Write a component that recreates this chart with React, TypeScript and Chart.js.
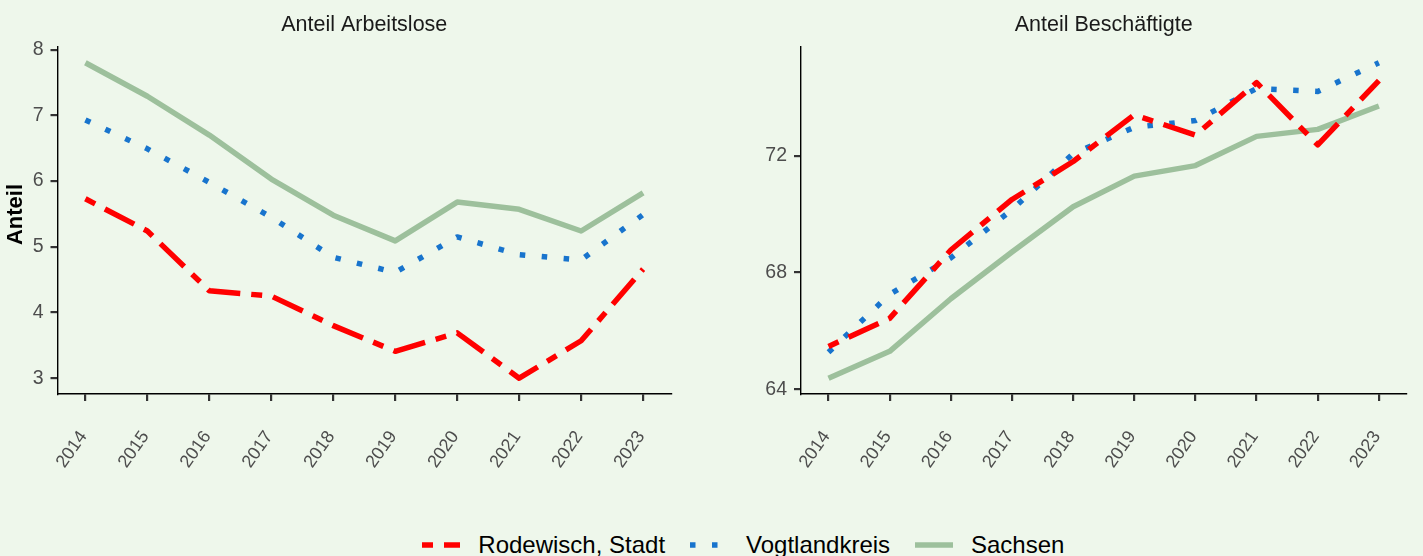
import { useEffect, useRef } from 'react';
import { Chart, registerables } from 'chart.js';

Chart.register(...registerables);

// ---------- data ----------
const years = [2014, 2015, 2016, 2017, 2018, 2019, 2020, 2021, 2022, 2023];
const seriesNames = ['Rodewisch, Stadt', 'Vogtlandkreis', 'Sachsen'];

const arbeitsloseRodewisch = [5.73, 5.24, 4.33, 4.25, 3.8, 3.41, 3.69, 3.0, 3.57, 4.66];
const arbeitsloseVogtland = [6.93, 6.49, 5.98, 5.45, 4.84, 4.61, 5.15, 4.88, 4.8, 5.49];
const arbeitsloseSachsen = [7.8, 7.29, 6.7, 6.03, 5.48, 5.09, 5.68, 5.57, 5.24, 5.82];

const beschaeftigteRodewisch = [65.47, 66.43, 68.77, 70.5, 71.8, 73.4, 72.7, 74.5, 72.37, 74.57];
const beschaeftigteVogtland = [65.27, 67.25, 68.5, 70.15, 72.07, 72.97, 73.2, 74.3, 74.2, 75.18];
const beschaeftigteSachsen = [64.38, 65.3, 67.1, 68.7, 70.25, 71.3, 71.66, 72.66, 72.9, 73.7];

const arbeitsloseTicks = [3, 4, 5, 6, 7, 8];
const beschaeftigteTicks = [64, 68, 72];

const titleLeft = 'Anteil Arbeitslose';
const titleRight = 'Anteil Beschäftigte';
const yTitle = 'Anteil';

// ---------- style ----------
const BG = '#EEF7EB';
const RED = '#FF0000';
const BLUE = '#1874CD';
const GREEN = '#9DC09C';
const FONT = '"Liberation Sans", Arial, sans-serif';
const LW = 5.5;
const DASH_RED = [11, 11, 33, 11];
const DASH_BLUE = [5.5, 16.5];

const colors = [RED, BLUE, GREEN];
const dashes = [DASH_RED, DASH_BLUE, []];

function expand(vals: number[][]) {
  const all = vals.flat();
  const mn = Math.min(...all);
  const mx = Math.max(...all);
  const r = mx - mn;
  return [mn - r * 0.05, mx + r * 0.05];
}

const panelPlugin = {
  id: 'panelDecor',
  afterDraw(chart: any, _args: any, opts: any) {
    const { ctx, chartArea } = chart;
    ctx.save();
    ctx.fillStyle = '#1A1A1A';
    ctx.font = `21.5px ${FONT}`;
    ctx.textAlign = 'center';
    ctx.textBaseline = 'alphabetic';
    ctx.fillText(opts.title, (chartArea.left + chartArea.right) / 2, 30.7);
    if (opts.yTitle) {
      ctx.translate(15.8, 214.5);
      ctx.rotate(-Math.PI / 2);
      ctx.font = `bold 22px ${FONT}`;
      ctx.fillStyle = '#000000';
      ctx.textBaseline = 'middle';
      ctx.fillText(opts.yTitle, 0, 0);
    }
    ctx.restore();
  },
};

function buildChart(
  canvas: HTMLCanvasElement,
  data: number[][],
  ticks: number[],
  title: string,
  yTitleText: string | null,
  yWidth: number,
  padRight: number,
) {
  const [yMin, yMax] = expand(data);
  return new Chart(canvas, {
    type: 'line',
    data: {
      datasets: data.map((vals, i) => ({
        label: seriesNames[i],
        data: vals.map((v, j) => ({ x: years[j], y: v })),
        borderColor: colors[i],
        borderWidth: LW,
        borderDash: dashes[i],
        borderCapStyle: 'butt',
        borderJoinStyle: 'round',
        pointRadius: 0,
        fill: false,
        tension: 0,
      })),
    },
    options: {
      responsive: false,
      animation: false,
      devicePixelRatio: 1,
      layout: { padding: { top: 47, left: 0, right: padRight, bottom: 0 } },
      plugins: {
        legend: { display: false },
        tooltip: { enabled: false },
        panelDecor: { title, yTitle: yTitleText },
      } as any,
      scales: {
        x: {
          type: 'linear',
          min: years[0] - 0.45,
          max: years[years.length - 1] + 0.45,
          afterBuildTicks: (s: any) => {
            s.ticks = years.map((v) => ({ value: v }));
          },
          afterFit: (s: any) => {
            s.height = 86;
          },
          ticks: {
            autoSkip: false,
            minRotation: 55,
            maxRotation: 55,
            padding: 26,
            labelOffset: -2,
            color: '#4D4D4D',
            font: { family: FONT, size: 18 },
            callback: (v: any) => String(v),
          },
          grid: {
            drawOnChartArea: false,
            drawTicks: true,
            tickLength: 7,
            color: '#333333',
            lineWidth: 2.2,
          },
          border: { display: true, color: '#000000', width: 1.4 },
        },
        y: {
          type: 'linear',
          min: yMin,
          max: yMax,
          afterBuildTicks: (s: any) => {
            s.ticks = ticks.map((v) => ({ value: v }));
          },
          afterFit: (s: any) => {
            s.width = yWidth;
          },
          ticks: {
            padding: 7,
            color: '#4D4D4D',
            font: { family: FONT, size: 19.5 },
            callback: (v: any) => String(v),
          },
          grid: {
            drawOnChartArea: false,
            drawTicks: true,
            tickLength: 7,
            color: '#333333',
            lineWidth: 2.2,
          },
          border: { display: true, color: '#000000', width: 1.4 },
        },
      },
    } as any,
    plugins: [panelPlugin],
  });
}

function LegendKey({ color, dash }: { color: string; dash: number[] }) {
  return (
    <svg width={38} height={12} style={{ display: 'block' }}>
      <line
        x1={0}
        y1={6}
        x2={38}
        y2={6}
        stroke={color}
        strokeWidth={LW}
        strokeDasharray={dash.length ? dash.join(' ') : undefined}
        strokeLinecap="butt"
      />
    </svg>
  );
}

export default function App() {
  const leftRef = useRef<HTMLCanvasElement>(null);
  const rightRef = useRef<HTMLCanvasElement>(null);

  useEffect(() => {
    document.body.style.margin = '0';
    document.body.style.background = BG;
    const c1 = buildChart(
      leftRef.current!,
      [arbeitsloseRodewisch, arbeitsloseVogtland, arbeitsloseSachsen],
      arbeitsloseTicks,
      titleLeft,
      yTitle,
      57.5,
      40,
    );
    const c2 = buildChart(
      rightRef.current!,
      [beschaeftigteRodewisch, beschaeftigteVogtland, beschaeftigteSachsen],
      beschaeftigteTicks,
      titleRight,
      null,
      90,
      9,
    );
    return () => {
      c1.destroy();
      c2.destroy();
    };
  }, []);

  const legendItems = [
    { key: 421.7, text: 478.3 },
    { key: 690, text: 746 },
    { key: 914.7, text: 971 },
  ];

  return (
    <div
      style={{
        position: 'relative',
        width: 1423,
        height: 556,
        background: BG,
        overflow: 'hidden',
        fontFamily: FONT,
      }}
    >
      <canvas
        ref={leftRef}
        width={711}
        height={480}
        style={{ position: 'absolute', left: 0, top: 0, width: 711, height: 480 }}
      />
      <canvas
        ref={rightRef}
        width={712}
        height={480}
        style={{ position: 'absolute', left: 711, top: 0, width: 712, height: 480 }}
      />
      {legendItems.map((it, i) => (
        <div key={seriesNames[i]}>
          <div style={{ position: 'absolute', left: it.key, top: 539 }}>
            <LegendKey color={colors[i]} dash={dashes[i]} />
          </div>
          <div
            style={{
              position: 'absolute',
              left: it.text,
              top: 533,
              fontSize: 24,
              lineHeight: '24px',
              color: '#000000',
              whiteSpace: 'nowrap',
            }}
          >
            {seriesNames[i]}
          </div>
        </div>
      ))}
    </div>
  );
}
